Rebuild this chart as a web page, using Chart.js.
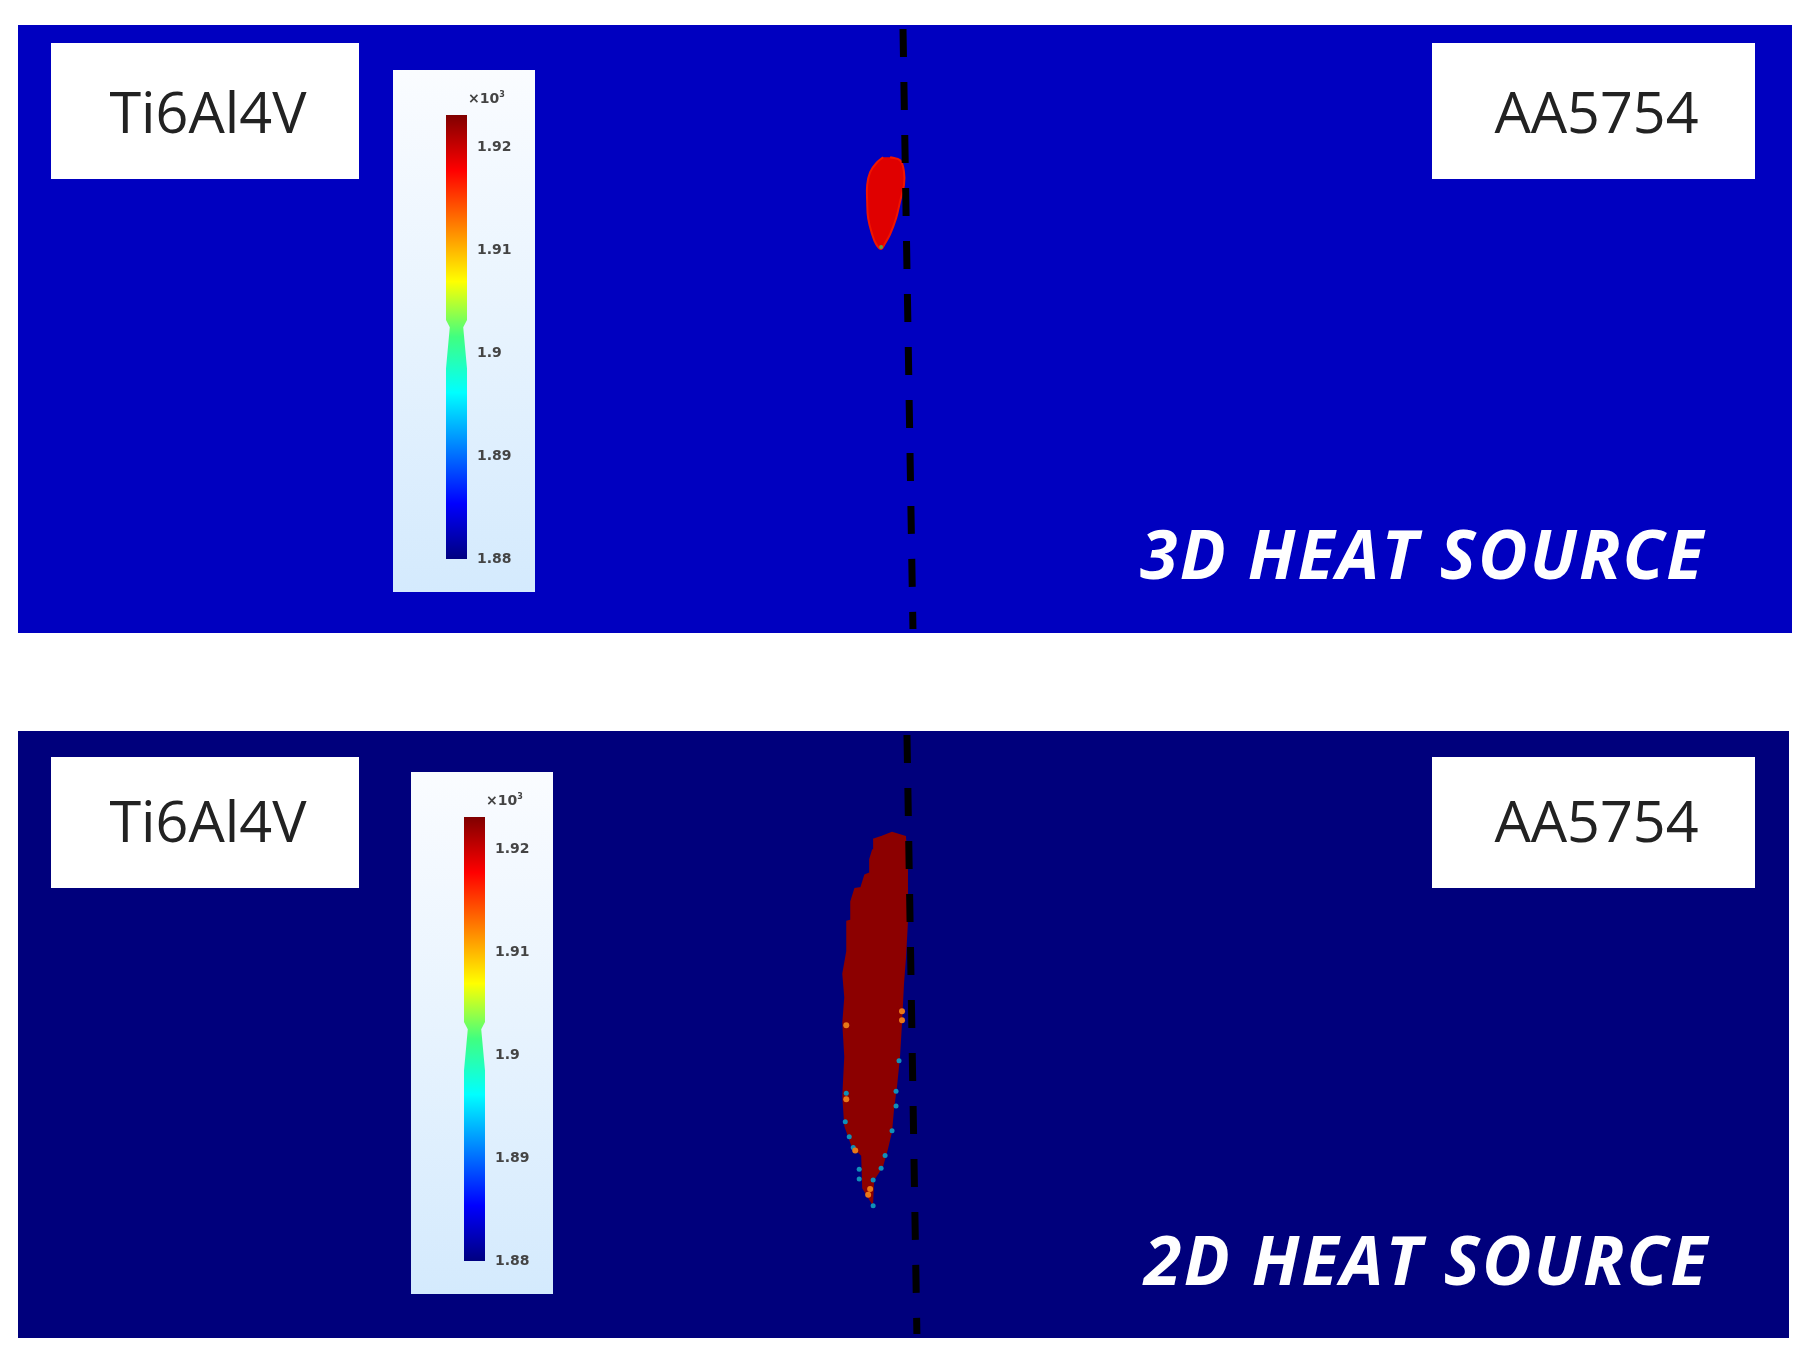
<!DOCTYPE html>
<html>
<head>
<meta charset="utf-8">
<title>Heat source comparison</title>
<script src="https://cdn.jsdelivr.net/npm/chart.js@4/dist/chart.umd.min.js"></script>
<style>
html, body { margin: 0; background: #fff; }
#page { position: relative; width: 1807px; height: 1357px; overflow: hidden; filter: blur(0.6px); }
canvas, .box, .tag, .exp { position: absolute; }
.box { background: #fff; color: #222; font: 57.5px "Open Sans", sans-serif; text-align: center; box-sizing: border-box; padding-left: 6px; }
.tag { color: #fff; font: italic bold 68px "Open Sans", sans-serif; line-height: 68px; letter-spacing: 2.2px; white-space: nowrap; }
.exp { color: #444; font: bold 14px "DejaVu Sans", sans-serif; white-space: nowrap; }
.exp sup { font-size: 8px; }
</style>
</head>
<body>
<div id="page">
  <canvas id="panel3d" width="1774" height="608" style="left:18px;top:25px;background:#0000c0"></canvas>
  <canvas id="panel2d" width="1771" height="607" style="left:18px;top:731px;background:#00007c"></canvas>
  <div class="box" style="left:51px;top:43px;width:308px;height:136px;line-height:136px">Ti6Al4V</div>
  <div class="box" style="left:1432px;top:43px;width:323px;height:136px;line-height:136px">AA5754</div>
  <div class="box" style="left:51px;top:757px;width:308px;height:131px;line-height:127px">Ti6Al4V</div>
  <div class="box" style="left:1432px;top:757px;width:323px;height:131px;line-height:127px">AA5754</div>
  <canvas id="bar3d" width="142" height="522" style="left:393px;top:70px;background:linear-gradient(#fafcff,#d4eafd)"></canvas>
  <canvas id="bar2d" width="142" height="522" style="left:411px;top:772px;background:linear-gradient(#fafcff,#d4eafd)"></canvas>
  <div class="exp" style="left:468px;top:90px">×10<sup>3</sup></div>
  <div class="exp" style="left:486px;top:792px">×10<sup>3</sup></div>
  <div class="tag" style="left:1140px;top:519px">3D HEAT SOURCE</div>
  <div class="tag" style="left:1144px;top:1225px">2D HEAT SOURCE</div>
</div>

<script>
// weld line, x / y in plate units (top to bottom)
var weld3dX = [88.5, 89.5];
var weld2dX = [88.9, 89.9];
var weldY = [0, 61];

// molten pool outlines
var pool3dX = [87.2, 88.2, 88.6, 88.6, 88.2, 87.8, 87.2, 86.7, 86.3, 85.8, 85.4, 85.0, 84.9, 84.9, 85.2, 85.9, 86.5];
var pool3dY = [13.0, 13.3, 14.5, 15.8, 17.5, 19.2, 20.8, 21.7, 22.3, 21.8, 20.8, 19.2, 17.5, 15.8, 14.5, 13.5, 13.0];
var pool2dX = [85.5, 86.4, 87.4, 88.7, 88.9, 88.9, 88.9, 88.7, 88.5, 88.3, 88.1, 87.8, 87.5, 87.3, 86.9, 86.4, 85.5, 85.4, 84.5, 84.4, 83.4, 82.7, 82.5, 82.7, 82.5, 82.7, 82.5, 82.9, 82.9, 83.3, 83.3, 83.7, 84.3, 84.7, 85.2, 85.2, 85.5];
var pool2dY = [10.6, 10.3, 9.9, 10.3, 13.2, 15.9, 18.9, 22.6, 25.2, 29.2, 32.6, 35.6, 37.9, 40.2, 41.9, 43.7, 45.1, 47.4, 45.9, 42.6, 41.6, 39.6, 36.6, 32.6, 29.2, 26.6, 24.2, 21.9, 18.9, 18.8, 16.9, 15.6, 15.5, 14.2, 14.0, 12.6, 11.6];

// hot and cool specks along the 2D pool edge
var hotSpeckX = [88.4, 88.4, 82.8, 82.8, 83.7, 85.0, 85.2];
var hotSpeckY = [28.0, 28.9, 29.4, 36.9, 42.1, 46.6, 46.0];
var coolSpeckX = [82.8, 82.7, 83.1, 83.5, 84.1, 84.1, 85.5, 85.5, 86.3, 86.7, 87.4, 87.8, 87.8, 88.1];
var coolSpeckY = [36.3, 39.2, 40.7, 41.8, 44.0, 45.0, 47.7, 45.1, 43.9, 42.6, 40.1, 37.6, 36.1, 33.0];

// colour bar
var barTicks = [1.88, 1.89, 1.9, 1.91, 1.92];
var barMin = 1.88;
var barMax = 1.9231;
var barEdgeX = [0, 1, 1, 0.82, 1, 1, 0, 0, 0.18, 0];
var barEdgeY = [1.88, 1.88, 1.8985, 1.9025, 1.9032, 1.9231, 1.9231, 1.9032, 1.9025, 1.8985];

function toPoints(xs, ys) {
    return xs.map(function (x, i) { return { x: x, y: ys[i] }; });
}

function panelChart(id, poolX, poolY, weldX, maxX, maxY, poolColor, rimColor, tension, extra) {
    var datasets = [
        {
            data: toPoints(weldX, weldY),
            showLine: true,
            borderColor: '#000',
            borderWidth: 7,
            borderDash: [28, 25],
            pointRadius: 0,
            order: 0
        },
        {
            data: toPoints(poolX, poolY),
            showLine: true,
            fill: 'shape',
            tension: tension,
            backgroundColor: poolColor,
            borderColor: rimColor,
            borderWidth: 2,
            pointRadius: 0,
            order: 2
        }
    ].concat(extra);
    new Chart(document.getElementById(id), {
        type: 'scatter',
        data: { datasets: datasets },
        options: {
            responsive: false,
            animation: false,
            layout: { padding: 0 },
            plugins: { legend: { display: false }, tooltip: { enabled: false } },
            scales: {
                x: { display: false, min: 0, max: maxX },
                y: { display: false, min: 0, max: maxY, reverse: true }
            }
        }
    });
}

function jet(context) {
    var area = context.chart.chartArea;
    if (!area) {
        return '#00f';
    }
    var g = context.chart.ctx.createLinearGradient(0, area.bottom, 0, area.top);
    g.addColorStop(0, '#000080');
    g.addColorStop(0.125, '#0000ff');
    g.addColorStop(0.375, '#00ffff');
    g.addColorStop(0.5, '#40ff80');
    g.addColorStop(0.625, '#ffff00');
    g.addColorStop(0.875, '#ff0000');
    g.addColorStop(1, '#800000');
    return g;
}

function barChart(id) {
    new Chart(document.getElementById(id), {
        type: 'scatter',
        data: {
            datasets: [{
                data: toPoints(barEdgeX, barEdgeY),
                showLine: true,
                fill: 'shape',
                backgroundColor: jet,
                borderWidth: 0,
                pointRadius: 0
            }]
        },
        options: {
            responsive: false,
            animation: false,
            layout: { padding: { left: 53, top: 45, bottom: 33 } },
            plugins: { legend: { display: false }, tooltip: { enabled: false } },
            scales: {
                x: { display: false, min: 0, max: 1 },
                y: {
                    position: 'right',
                    min: barMin,
                    max: barMax,
                    afterBuildTicks: function (axis) {
                        axis.ticks = barTicks.map(function (v) { return { value: v }; });
                    },
                    afterFit: function (axis) { axis.width = 68; },
                    grid: { display: false, drawTicks: false },
                    border: { display: false },
                    ticks: {
                        padding: 10,
                        color: '#444',
                        font: { family: 'DejaVu Sans', size: 14, weight: 'bold' },
                        callback: function (v) { return String(v); }
                    }
                }
            }
        }
    });
}

panelChart('panel3d', pool3dX, pool3dY, weld3dX, 177.4, 60.8, '#e00000', '#f01400', 0.4, [
    { data: [{ x: 86.3, y: 22.1 }], pointRadius: 2, pointBackgroundColor: '#60a040', pointBorderWidth: 0, order: 1 }
]);
panelChart('panel2d', pool2dX, pool2dY, weld2dX, 177.1, 60.7, '#8c0000', '#8c0000', 0, [
    { data: toPoints(hotSpeckX, hotSpeckY), pointRadius: 3, pointBackgroundColor: '#e87818', pointBorderWidth: 0, order: 1 },
    { data: toPoints(coolSpeckX, coolSpeckY), pointRadius: 2.5, pointBackgroundColor: '#1090b8', pointBorderWidth: 0, order: 1 }
]);
barChart('bar3d');
barChart('bar2d');
</script>
</body>
</html>
